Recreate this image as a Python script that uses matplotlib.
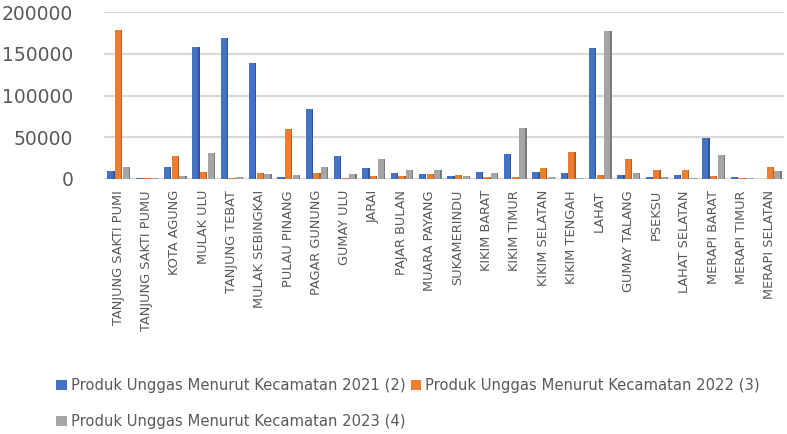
import numpy as np
import matplotlib
matplotlib.use("Agg")
import matplotlib.pyplot as plt

kecamatan = ["TANJUNG SAKTI PUMI", "TANJUNG SAKTI PUMU", "KOTA AGUNG", "MULAK ULU",
             "TANJUNG TEBAT", "MULAK SEBINGKAI", "PULAU PINANG", "PAGAR GUNUNG",
             "GUMAY ULU", "JARAI", "PAJAR BULAN", "MUARA PAYANG", "SUKAMERINDU",
             "KIKIM BARAT", "KIKIM TIMUR", "KIKIM SELATAN", "KIKIM TENGAH", "LAHAT",
             "GUMAY TALANG", "PSEKSU", "LAHAT SELATAN", "MERAPI BARAT", "MERAPI TIMUR",
             "MERAPI SELATAN"]

produk_2021 = [10000, 1500, 14700, 158000, 169000, 138600, 2000, 84000,
               28000, 12800, 7500, 6500, 3500, 8800, 29600, 8800,
               7000, 156500, 4500, 2000, 4500, 49500, 2500, 500]
produk_2022 = [179000, 1200, 27500, 8000, 1500, 6800, 60000, 6800,
               1000, 3500, 3500, 6000, 4500, 2000, 2500, 12800,
               32300, 5000, 24300, 10400, 11000, 4000, 1500, 14000]
produk_2023 = [14000, 1500, 3000, 31500, 2000, 5500, 5000, 14000,
               6000, 24300, 11000, 11000, 4000, 7500, 61500, 2000,
               1500, 177700, 7000, 2500, 1000, 28800, 1500, 9000]

seri = [
    ("Produk Unggas Menurut Kecamatan 2021 (2)", produk_2021, "#4472C4", "#2F5597"),
    ("Produk Unggas Menurut Kecamatan 2022 (3)", produk_2022, "#ED7D31", "#B85E1F"),
    ("Produk Unggas Menurut Kecamatan 2023 (4)", produk_2023, "#A5A5A5", "#7B7B7B"),
]

teks = "#595959"
fig = plt.figure(figsize=(7.87, 4.34), dpi=100)
ax = fig.add_axes([0.132, 0.5876, 0.864, 0.3844])

x = np.arange(len(kecamatan))
w = 0.21
handles = []
for i, (nama, nilai, warna, sisi) in enumerate(seri):
    pos = x + (i - 1) * 0.27
    # sisi gelap untuk kesan 3D
    ax.bar(pos + w / 2 + 0.025, nilai, width=0.05, color=sisi, zorder=2)
    b = ax.bar(pos, nilai, width=w, color=warna, zorder=3, label=nama)
    handles.append(b)

ax.set_xlim(-0.5, len(kecamatan) - 0.5)
ax.set_ylim(0, 200000)
ax.set_yticks([0, 50000, 100000, 150000, 200000])
ax.set_yticklabels(["0", "50000", "100000", "150000", "200000"])
ax.yaxis.grid(True, color="#D9D9D9", linewidth=1.6, zorder=0)
ax.set_axisbelow(True)
for s in ax.spines.values():
    s.set_visible(False)
ax.tick_params(axis="y", length=0, pad=22, labelsize=13.5, labelcolor=teks)
ax.set_xticks(x)
ax.set_xticklabels(kecamatan, rotation=90, fontsize=9.3, color=teks)
ax.tick_params(axis="x", length=0, pad=8)

fig.legend([handles[0], handles[2], handles[1]],
           [seri[0][0], seri[2][0], seri[1][0]],
           ncol=2, loc="upper left", bbox_to_anchor=(0.064, 0.143),
           frameon=False, fontsize=10.6, labelcolor=teks,
           handlelength=0.7, handleheight=0.7, handletextpad=0.3,
           columnspacing=0.35, labelspacing=1.45, borderaxespad=0)

fig.savefig("out.png", dpi=100)
